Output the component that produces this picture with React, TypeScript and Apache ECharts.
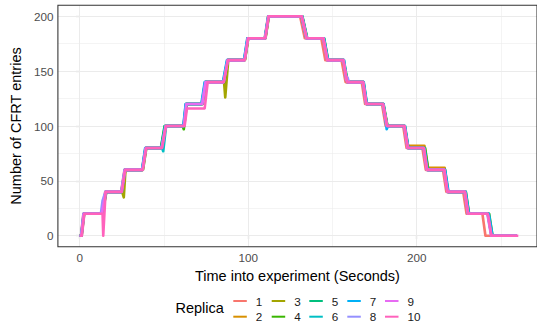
import React, { useEffect, useRef } from 'react';
import * as echarts from 'echarts';

const replicaNames = ['1', '2', '3', '4', '5', '6', '7', '8', '9', '10'];

const replica1: [number, number][] = [[0,0],[0.8,0],[2.2,20],[13.0,20],[15.2,40],[24.6,40],[26.6,60],[37.0,60],[39.0,80],[48.4,80],[50.8,100],[61.6,100],[63.0,120],[72.4,120],[74.4,140],[85.2,140],[87.6,160],[97.6,160],[99.6,180],[109.8,180],[111.8,200],[130.8,200],[133.6,180],[143.4,180],[145.8,160],[155.4,160],[157.8,140],[167.4,140],[169.4,120],[179.4,120],[181.6,100],[192.0,100],[194.0,80],[203.4,80],[205.4,60],[215.6,60],[217.6,40],[227.6,40],[229.6,20],[239.0,20],[240.8,0],[259.0,0]];
const replica2: [number, number][] = [[0,0],[1.1,0],[2.6,20],[13.4,20],[15.8,40],[25.0,40],[27.0,60],[37.4,60],[39.4,80],[48.8,80],[51.2,100],[62.0,100],[63.4,120],[72.8,120],[74.8,140],[85.6,140],[88.0,160],[98.0,160],[100.0,180],[110.2,180],[112.2,200],[131.9,200],[134.8,180],[144.7,180],[147.1,160],[156.5,160],[158.8,140],[168.3,140],[170.2,120],[180.1,120],[182.5,100],[192.8,100],[194.8,82],[204.6,82],[206.6,62],[216.6,62],[218.6,40],[228.8,40],[230.8,20],[242.4,20],[244.6,0],[259.5,0]];
const replica3: [number, number][] = [[0,0],[1.0,0],[2.5,20],[13.3,20],[15.6,40],[25.2,40],[26.2,35],[27.2,60],[37.3,60],[39.3,80],[48.7,80],[51.1,100],[61.9,100],[63.3,120],[72.7,120],[74.7,140],[85.7,140],[86.4,126],[88.2,160],[97.9,160],[99.9,180],[110.1,180],[112.1,200],[131.8,200],[134.7,180],[144.6,180],[147.0,160],[156.4,160],[158.7,140],[168.2,140],[170.1,120],[180.0,120],[182.4,100],[192.7,100],[194.7,80],[204.2,80],[206.1,60],[216.4,60],[218.3,40],[228.6,40],[230.5,20],[242.2,20],[244.4,0],[259.5,0]];
const replica4: [number, number][] = [[0,0],[1.2,0],[2.7,20],[13.5,20],[15.9,40],[25.1,40],[27.1,60],[37.6,60],[39.6,80],[48.3,80],[50.6,100],[61.2,100],[61.8,97],[63.6,120],[72.9,120],[74.9,140],[85.8,140],[88.1,160],[98.1,160],[100.1,180],[110.3,180],[112.3,200],[132.1,200],[135.0,180],[145.0,180],[147.4,160],[156.6,160],[158.9,140],[168.5,140],[170.4,120],[180.3,120],[182.7,100],[193.0,100],[195.0,80],[205.0,80],[206.9,60],[216.8,60],[218.7,40],[229.2,40],[231.1,20],[243.0,20],[245.0,0],[259.5,0]];
const replica5: [number, number][] = [[0,0],[0.9,0],[2.4,20],[13.2,20],[15.5,40],[24.8,40],[26.8,60],[37.2,60],[39.2,80],[48.2,80],[50.4,100],[61.8,100],[63.2,120],[72.6,120],[74.6,140],[85.4,140],[87.8,160],[97.8,160],[99.8,180],[110.0,180],[112.0,200],[132.2,200],[135.1,180],[145.1,180],[147.5,160],[156.8,160],[159.1,140],[168.4,140],[170.3,120],[180.2,120],[182.6,100],[192.9,100],[194.9,80],[204.4,80],[206.3,60],[216.6,60],[218.5,40],[229.0,40],[230.9,20],[242.6,20],[244.8,0],[259.5,0]];
const replica6: [number, number][] = [[0,0],[1.0,0],[2.5,20],[13.4,20],[15.7,40],[24.9,40],[26.9,60],[37.1,60],[39.1,80],[48.9,80],[49.6,77],[51.3,100],[61.7,100],[63.1,120],[72.5,120],[74.5,140],[85.3,140],[87.7,160],[97.7,160],[99.7,180],[109.9,180],[111.9,200],[131.6,200],[134.5,180],[144.8,180],[147.2,160],[156.5,160],[158.8,140],[168.3,140],[170.2,120],[180.1,120],[182.5,100],[192.8,100],[194.8,80],[204.3,80],[206.2,60],[216.5,60],[218.4,40],[228.7,40],[230.6,20],[242.3,20],[244.5,0],[259.5,0]];
const replica7: [number, number][] = [[0,0],[1.1,0],[2.6,20],[13.1,20],[15.4,40],[25.0,40],[27.0,60],[37.0,60],[38.9,80],[48.6,80],[51.0,100],[61.5,100],[62.9,120],[72.2,120],[74.2,140],[85.0,140],[87.4,160],[97.5,160],[99.5,180],[110.0,180],[112.0,200],[132.0,200],[134.9,180],[144.9,180],[147.3,160],[156.9,160],[158.3,143],[159.2,140],[168.6,140],[170.5,120],[180.4,120],[182.2,97],[183.0,100],[193.1,100],[195.1,80],[204.6,80],[206.5,60],[216.9,60],[218.9,40],[229.1,40],[231.0,20],[242.8,20],[245.0,0],[259.5,0]];
const replica8: [number, number][] = [[0,0],[0.9,0],[2.3,20],[12.6,20],[13.6,32],[15.3,40],[24.7,40],[26.7,60],[37.2,60],[39.2,80],[48.6,80],[51.0,100],[61.8,100],[63.2,120],[72.6,120],[74.6,140],[85.4,140],[87.8,160],[97.8,160],[99.8,180],[110.0,180],[112.0,200],[131.7,200],[134.6,180],[144.5,180],[146.9,160],[156.7,160],[158.2,142],[159.0,144],[159.8,140],[168.1,140],[170.0,120],[179.9,120],[182.3,100],[192.6,100],[194.6,80],[204.1,80],[206.0,60],[216.3,60],[218.2,40],[228.5,40],[230.4,20],[241.9,20],[244.2,0],[259.5,0]];
const replica9: [number, number][] = [[0,0],[1.0,0],[2.4,20],[13.2,20],[15.5,40],[24.8,40],[26.8,60],[37.3,60],[39.3,80],[48.7,80],[51.1,100],[62.0,100],[63.4,120],[72.8,120],[74.8,140],[85.5,140],[87.9,160],[97.9,160],[99.9,180],[110.1,180],[112.1,200],[131.9,200],[134.8,180],[144.7,180],[147.1,160],[156.4,160],[158.7,140],[168.2,140],[170.1,120],[180.0,120],[182.4,100],[192.7,100],[194.7,80],[204.2,80],[206.1,60],[216.4,60],[218.3,40],[228.6,40],[230.5,20],[242.1,20],[244.3,0],[259.5,0]];
const replica10: [number, number][] = [[0,0],[1.3,0],[2.8,20],[13.6,20],[14.0,0],[15.4,40],[25.1,40],[27.1,60],[37.5,60],[39.5,80],[48.9,80],[51.3,100],[62.3,100],[63.7,116],[74.2,116],[76.0,140],[85.6,140],[88.0,160],[98.0,160],[100.0,180],[110.2,180],[112.2,200],[131.8,200],[134.7,180],[144.6,180],[147.0,160],[156.5,160],[158.8,140],[168.3,140],[170.2,120],[180.1,120],[182.5,100],[192.8,100],[194.8,80],[204.3,80],[206.2,60],[216.4,60],[218.3,40],[228.7,40],[230.6,20],[242.2,20],[244.4,0],[260.3,0]];

const xTickValues = [0, 100, 200];
const xMinorGridValues = [50, 150, 250];
const yTickValues = [0, 50, 100, 150, 200];
const yMinorGridValues = [25, 75, 125, 175];

const palette = ['#F8766D', '#D89000', '#A3A500', '#39B600', '#00BF7D', '#00BFC4', '#00B0F6', '#9590FF', '#E76BF3', '#FF62BC'];
const FONT = '"Liberation Sans", Arial, Helvetica, sans-serif';

export default function App() {
  const ref = useRef<HTMLDivElement>(null);
  useEffect(() => {
    if (!ref.current) return;
    const chart = echarts.init(ref.current, null, { renderer: 'svg' });
    const replicas = [replica1, replica2, replica3, replica4, replica5, replica6, replica7, replica8, replica9, replica10];
    const lineSeries = replicas.map((d, i) => ({
      type: 'line',
      name: replicaNames[i],
      data: d,
      showSymbol: false,
      symbol: 'none',
      silent: true,
      z: 3,
      lineStyle: { width: 2.6, color: palette[i], cap: 'butt', join: 'round' },
      itemStyle: { color: palette[i] },
    }));
    const major = { color: '#EBEBEB', width: 1.07, type: 'solid' };
    const minor = { color: '#EBEBEB', width: 0.53, type: 'solid' };
    const gridSeries = {
      type: 'line',
      name: '__grid',
      data: [],
      z: 1,
      silent: true,
      markLine: {
        z: 1,
        silent: true,
        symbol: ['none', 'none'],
        label: { show: false },
        emphasis: { disabled: true },
        animation: false,
        lineStyle: { type: 'solid' },
        data: [
          ...yMinorGridValues.map((v) => ({ yAxis: v, lineStyle: minor })),
          ...xMinorGridValues.map((v) => ({ xAxis: v, lineStyle: minor })),
          ...yTickValues.map((v) => ({ yAxis: v, lineStyle: major })),
          ...xTickValues.map((v) => ({ xAxis: v, lineStyle: major })),
        ],
      },
    };
    const legendCols = [233.3, 271.7, 309.3, 347.3, 385];
    const legendRows = [301, 316.7];
    const legends = replicaNames.map((n, i) => ({
      data: [n],
      left: legendCols[Math.floor(i / 2)],
      top: legendRows[i % 2] - 6,
      padding: 0,
      itemGap: 0,
      itemWidth: 13.5,
      itemHeight: 2,
      icon: 'rect',
      selectedMode: false,
      textStyle: { fontSize: 11.7, color: '#1A1A1A', fontFamily: FONT, lineHeight: 12, padding: [0, 0, 0, 4] },
    }));
    chart.setOption({
      animation: false,
      backgroundColor: '#FFFFFF',
      grid: {
        show: true,
        left: 54.5,
        right: 0,
        top: 5.3,
        bottom: 82.3,
        borderColor: '#333333',
        borderWidth: 1.07,
        backgroundColor: 'transparent',
        z: 4,
      },
      xAxis: {
        type: 'value',
        min: -12.9,
        max: 271.4,
        splitLine: { show: false },
        axisLine: { show: false },
        axisTick: { show: true, customValues: xTickValues, length: 3.7, lineStyle: { color: '#333333', width: 1.07 } },
        axisLabel: { customValues: xTickValues, fontSize: 11.7, color: '#4D4D4D', margin: 5, fontFamily: FONT },
        name: 'Time into experiment (Seconds)',
        nameLocation: 'middle',
        nameGap: 16,
        nameTextStyle: { fontSize: 14.5, color: '#000000', fontFamily: FONT },
      },
      yAxis: {
        type: 'value',
        min: -10,
        max: 210,
        splitLine: { show: false },
        axisLine: { show: false },
        axisTick: { show: true, customValues: yTickValues, length: 3.7, lineStyle: { color: '#333333', width: 1.07 } },
        axisLabel: { customValues: yTickValues, fontSize: 11.7, color: '#4D4D4D', margin: 4.5, fontFamily: FONT },
        name: 'Number of CFRT entries',
        nameLocation: 'middle',
        nameGap: 24,
        nameTextStyle: { fontSize: 14.5, color: '#000000', fontFamily: FONT },
      },
      legend: legends,
      graphic: [
        {
          type: 'text',
          left: 175.5,
          top: 300.5,
          style: { text: 'Replica', fontSize: 14.5, fill: '#000000', fontFamily: FONT },
        },
      ],
      series: [gridSeries, ...lineSeries],
    });
    return () => chart.dispose();
  }, []);
  return <div ref={ref} style={{ position: 'absolute', left: 0, top: 0, width: 537, height: 329 }} />;
}
